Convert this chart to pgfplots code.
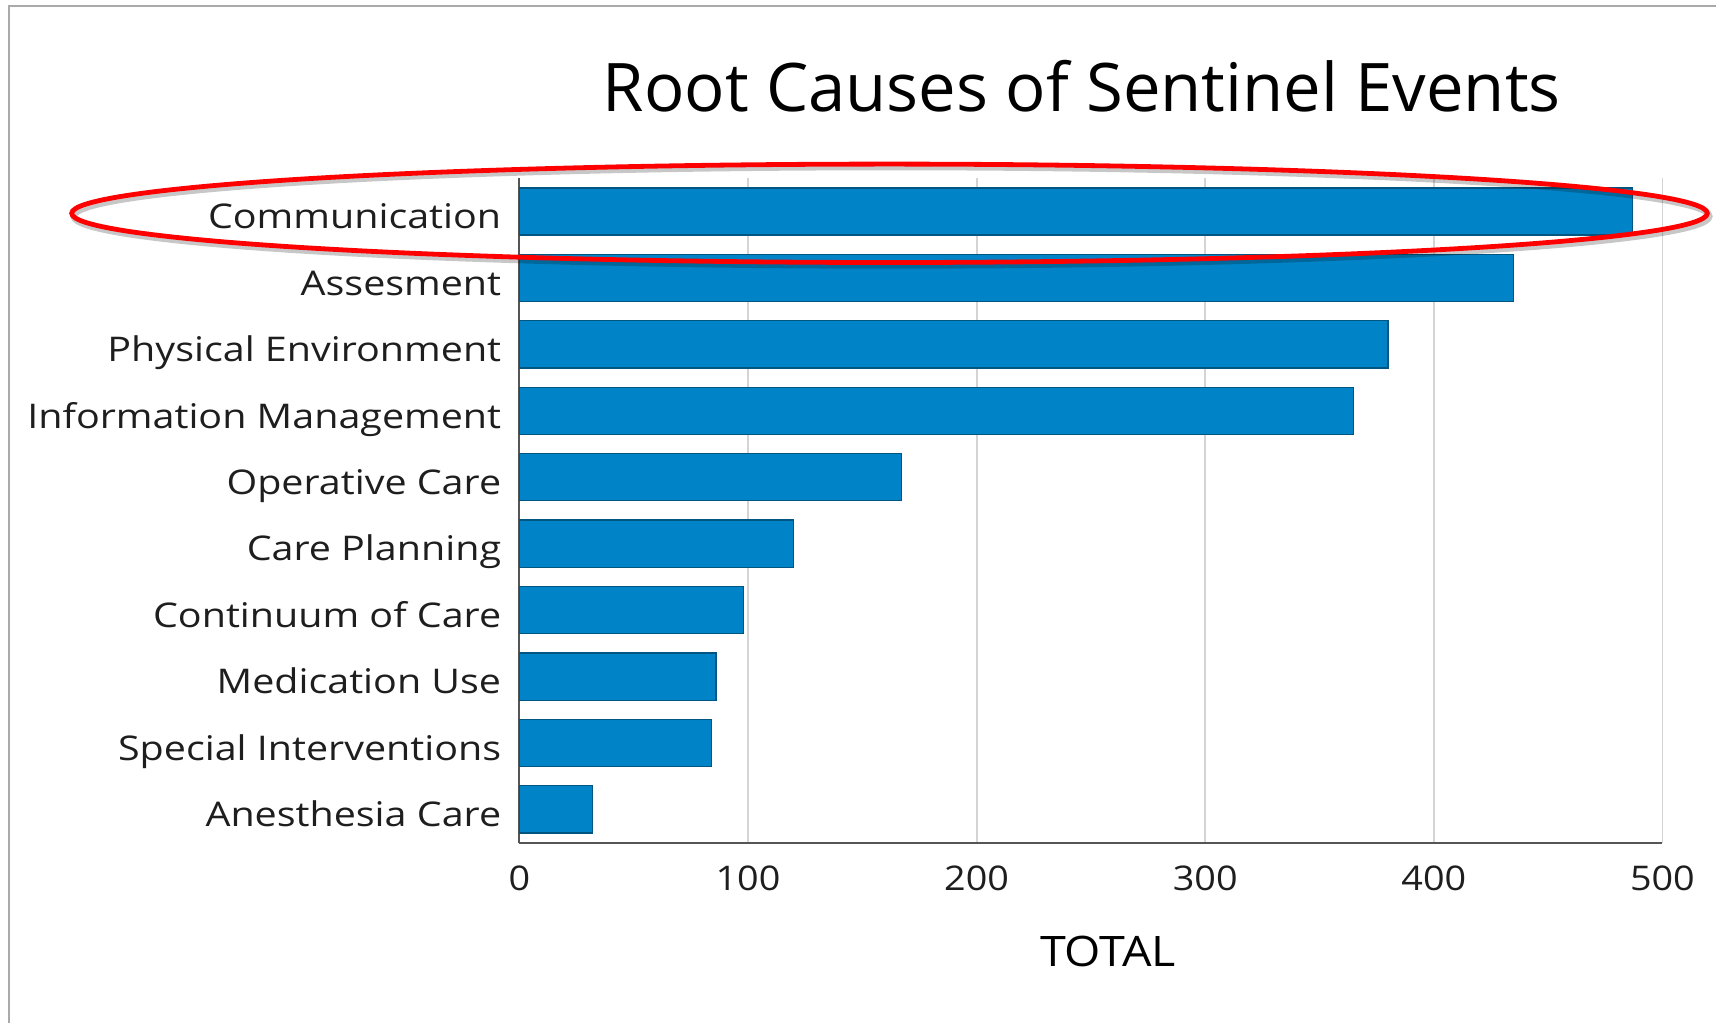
\documentclass[border=0pt]{standalone}
\usepackage{pgfplots}
\pgfplotsset{compat=1.18}
\usepackage{fontspec}
\setmainfont{Open Sans}
\newfontfamily\labelfont{Open Sans}[FakeStretch=1.11]
\newfontfamily\ylabelfont{Open Sans}[FakeStretch=1.16]
\definecolor{barblue}{RGB}{0,132,199}
\definecolor{gridgray}{RGB}{212,212,212}
\definecolor{axisgray}{RGB}{85,85,85}
\definecolor{txt}{RGB}{30,30,30}
\definecolor{framegray}{RGB}{170,170,170}
\begin{document}
\begin{tikzpicture}
\useasboundingbox (0,0) rectangle (858pt,511.5pt);
\fill[white] (0,0) rectangle (858pt,511.5pt);
\draw[framegray, line width=1pt] (4.35pt,0) -- (4.35pt,508.65pt) -- (858pt,508.65pt);
\begin{axis}[
  at={(259.7pt,89.85pt)}, anchor=south west,
  scale only axis, width=571.5pt, height=332.5pt,
  xbar, bar width=0.71,
  xmin=0, xmax=500, ymin=-0.51, ymax=9.5,
  ytick={0,...,9},
  yticklabels={Anesthesia Care, Special Interventions, Medication Use, Continuum of Care, Care Planning, Operative Care, Information Management, Physical Environment, Assesment, Communication},
  xtick={0,100,...,500},
  xmajorgrids, grid style={gridgray, line width=0.9pt},
  axis x line*=bottom, axis y line*=left,
  major tick length=0pt,
  axis line style={axisgray, line width=1pt},
  /pgf/number format/assume math mode=true,
  xticklabel style={font=\labelfont\fontsize{17}{17}\selectfont, text=txt, yshift=-7.5pt},
  yticklabel style={font=\ylabelfont\fontsize{17}{17}\selectfont, text=txt, anchor=base east, xshift=-5.6pt, yshift=-8.6pt},
  clip=false,
]
\addplot[fill=barblue, draw=barblue!65!black, line width=0.6pt]
  coordinates {(32,0) (84,1) (86,2) (98,3) (120,4) (167,5) (365,6) (380,7) (435,8) (487,9)};
\end{axis}
\node[anchor=base, font=\fontsize{33.5}{33.5}\selectfont, text=black] at (540.85pt,455.65pt) {Root Causes of Sentinel Events};
\node[anchor=base, font=\labelfont\fontsize{21}{21}\selectfont, text=black] at (554pt,28.15pt) {TOTAL};
\draw[black, opacity=0.22, line width=3.2pt] (445.75pt,403.35pt) ellipse [x radius=408.9pt, y radius=24.6pt];
\draw[red, line width=2.4pt] (444.75pt,404.85pt) ellipse [x radius=408.9pt, y radius=24.6pt];
\end{tikzpicture}
\end{document}
